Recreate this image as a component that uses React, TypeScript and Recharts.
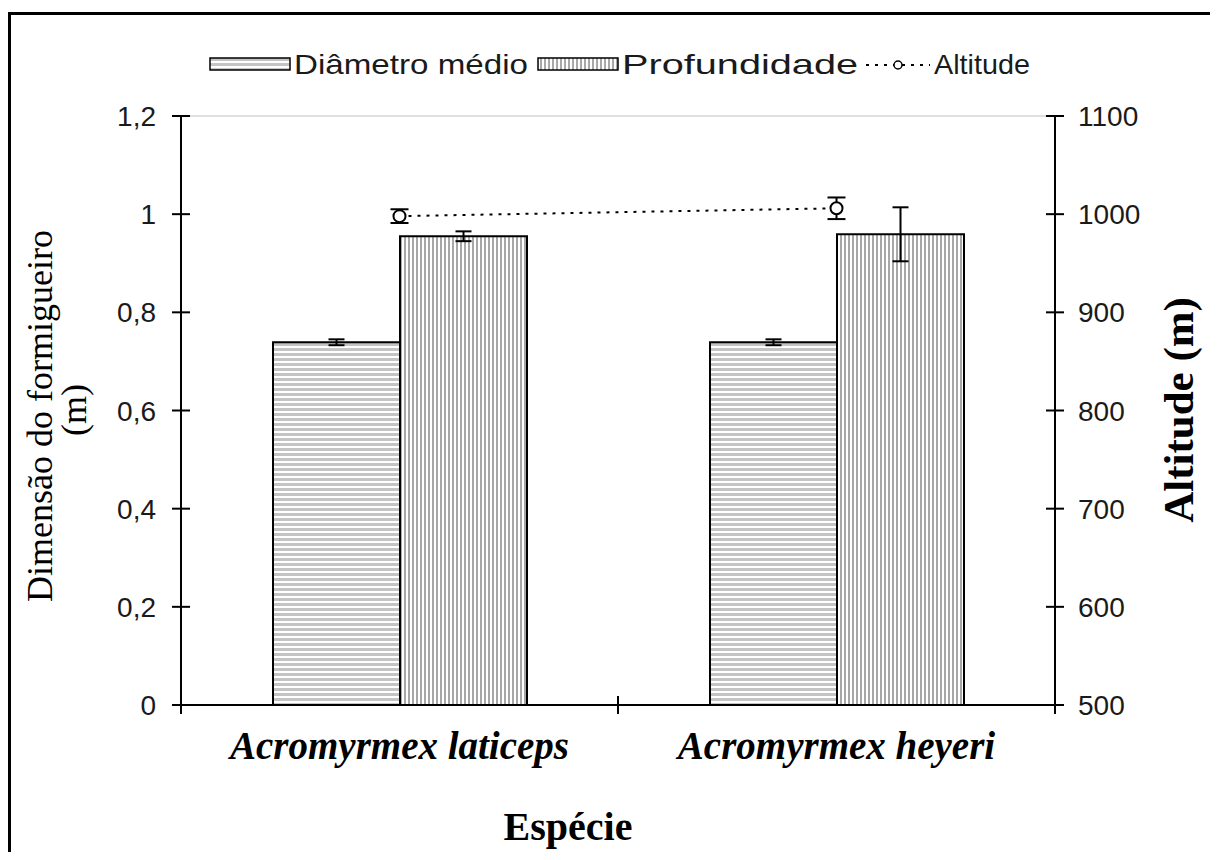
import { ComposedChart, Bar, Line, XAxis, YAxis, ErrorBar, ReferenceLine } from 'recharts';

// dados
const especies = ['Acromyrmex laticeps', 'Acromyrmex heyeri'];
const diametro = [0.739, 0.739];
const diametroErro = [0.006, 0.006];
const profundidade = [0.955, 0.959];
const profundidadeErro = [0.01, 0.055];
const altitude = [998, 1006];
const altitudeErro = [7, 11];

const ticksDimensao = [0, 0.2, 0.4, 0.6, 0.8, 1, 1.2];
const ticksAltitude = [500, 600, 700, 800, 900, 1000, 1100];
const legendas = ['Diâmetro médio', 'Profundidade', 'Altitude'];

const dados = especies.map((nome, i) => ({
  nome,
  diametro: diametro[i],
  diametroErro: diametroErro[i],
  profundidade: profundidade[i],
  profundidadeErro: profundidadeErro[i],
  altitude: altitude[i],
  altitudeErro: altitudeErro[i],
}));

const W = 1210;
const H = 844;
const ESQ = 173;
const DIR = 163;
const TOPO = 108;
const BAIXO = 147;
const BANDA = (W - ESQ - DIR) / especies.length;

const SANS = "'Liberation Sans', Arial, sans-serif";
const SERIF = "'Liberation Serif', 'Times New Roman', serif";

const TickEsquerda = ({ x, y, payload }: any) => (
  <g>
    <line x1={x - 9} x2={x + 9} y1={y} y2={y} stroke="#000" strokeWidth={2} />
    <text x={x - 25} y={y + 10} textAnchor="end" fontFamily={SANS} fontSize={28} fill="#1a1a1a">
      {String(payload.value).replace('.', ',')}
    </text>
  </g>
);

const TickDireita = ({ x, y, payload }: any) => (
  <g>
    <line x1={x - 9} x2={x + 9} y1={y} y2={y} stroke="#000" strokeWidth={2} />
    <text x={x + 23} y={y + 10} textAnchor="start" fontFamily={SANS} fontSize={28} fill="#1a1a1a">
      {payload.value}
    </text>
  </g>
);

const TickEspecie = ({ x, y, payload, index }: any) => (
  <g>
    {index === 0 && (
      <line x1={x - BANDA / 2} x2={x - BANDA / 2} y1={y - 9} y2={y + 9} stroke="#000" strokeWidth={2} />
    )}
    <line x1={x + BANDA / 2} x2={x + BANDA / 2} y1={y - 9} y2={y + 9} stroke="#000" strokeWidth={2} />
    <text
      x={x}
      y={y + 54}
      textAnchor="middle"
      fontFamily={SERIF}
      fontWeight="bold"
      fontStyle="italic"
      fontSize={39}
      fill="#000"
    >
      {payload.value}
    </text>
  </g>
);

const tituloEsquerda = () => (
  <g>
    <text transform="rotate(-90 44 408)" x={44} y={408} textAnchor="middle" fontFamily={SERIF} fontSize={36} fill="#000">
      Dimensão do formigueiro
    </text>
    <text transform="rotate(-90 78 402)" x={78} y={402} textAnchor="middle" fontFamily={SERIF} fontSize={36} fill="#000">
      (m)
    </text>
  </g>
);

const tituloDireita = () => (
  <text
    transform="rotate(-90 1185 402)"
    x={1185}
    y={402}
    textAnchor="middle"
    fontFamily={SERIF}
    fontWeight="bold"
    fontSize={43}
    fill="#000"
  >
    Altitude (m)
  </text>
);

const tituloBaixo = () => (
  <text x={560} y={832} textAnchor="middle" fontFamily={SERIF} fontWeight="bold" fontSize={40} fill="#000">
    Espécie
  </text>
);

function Padroes() {
  return (
    <>
      <pattern id="listraH" patternUnits="userSpaceOnUse" width={6} height={5}>
        <rect width={6} height={5} fill="#fff" />
        <rect width={6} height={3} fill="#c4c4c4" />
      </pattern>
      <pattern id="listraV" patternUnits="userSpaceOnUse" width={4} height={6}>
        <rect width={4} height={6} fill="#fff" />
        <rect width={2} height={6} fill="#a8a8a8" />
      </pattern>
    </>
  );
}

// legenda desenhada à parte, por cima do gráfico
function Legenda() {
  const txt = { fontFamily: SANS, fontSize: 28, fill: '#1a1a1a' };
  return (
    <svg width={W} height={90} style={{ position: 'absolute', left: 0, top: 0 }}>
      <rect x={202} y={50} width={80} height={12} fill="url(#listraH)" stroke="#000" strokeWidth={1.5} />
      <text x={286} y={66} textLength={234} lengthAdjust="spacingAndGlyphs" {...txt}>
        {legendas[0]}
      </text>
      <rect x={530} y={50} width={80} height={12} fill="url(#listraV)" stroke="#000" strokeWidth={1.5} />
      <text x={614} y={66} textLength={236} lengthAdjust="spacingAndGlyphs" {...txt}>
        {legendas[1]}
      </text>
      <line x1={858} x2={922} y1={57} y2={57} stroke="#000" strokeWidth={2} strokeDasharray="3 6" />
      <circle cx={890} cy={57} r={4} fill="#fff" stroke="#000" strokeWidth={1.5} />
      <text x={926} y={66} textLength={96} lengthAdjust="spacingAndGlyphs" {...txt}>
        {legendas[2]}
      </text>
    </svg>
  );
}

export default function App() {
  return (
    <div style={{ position: 'relative', width: W, height: H, overflow: 'hidden', background: '#fff' }}>
      <div
        style={{
          position: 'absolute',
          left: 0,
          top: 4,
          width: 1208,
          height: 900,
          boxSizing: 'border-box',
          borderLeft: '3px solid #000',
          borderTop: '3px solid #000',
          borderRight: '3px solid #000',
        }}
      />
      <div style={{ position: 'absolute', left: 0, top: 0 }}>
        <ComposedChart
          width={W}
          height={H}
          data={dados}
          margin={{ top: TOPO, right: 0, bottom: 0, left: 0 }}
          barGap={0}
        >
          <defs>
            <Padroes />
          </defs>
          <XAxis
            dataKey="nome"
            height={BAIXO}
            axisLine={{ stroke: '#000', strokeWidth: 2 }}
            tickLine={false}
            tickSize={0}
            tickMargin={0}
            interval={0}
            tick={<TickEspecie />}
            label={tituloBaixo}
          />
          <YAxis
            yAxisId="dim"
            orientation="left"
            width={ESQ}
            domain={[0, 1.2]}
            ticks={ticksDimensao}
            axisLine={{ stroke: '#000', strokeWidth: 2 }}
            tickLine={false}
            tickSize={0}
            tickMargin={0}
            tick={<TickEsquerda />}
            label={tituloEsquerda}
          />
          <YAxis
            yAxisId="alt"
            orientation="right"
            width={DIR}
            domain={[500, 1100]}
            ticks={ticksAltitude}
            axisLine={{ stroke: '#000', strokeWidth: 2 }}
            tickLine={false}
            tickSize={0}
            tickMargin={0}
            tick={<TickDireita />}
            label={tituloDireita}
          />
          <ReferenceLine yAxisId="dim" y={1.2} stroke="#c0c0c0" strokeWidth={1} />
          <Bar
            yAxisId="dim"
            dataKey="diametro"
            name={legendas[0]}
            fill="url(#listraH)"
            stroke="#000"
            strokeWidth={2}
            barSize={127}
            isAnimationActive={false}
          >
            <ErrorBar dataKey="diametroErro" width={8} stroke="#000" strokeWidth={2} direction="y" />
          </Bar>
          <Bar
            yAxisId="dim"
            dataKey="profundidade"
            name={legendas[1]}
            fill="url(#listraV)"
            stroke="#000"
            strokeWidth={2}
            barSize={127}
            isAnimationActive={false}
          >
            <ErrorBar dataKey="profundidadeErro" width={8} stroke="#000" strokeWidth={2} direction="y" />
          </Bar>
          <Line
            yAxisId="alt"
            dataKey="altitude"
            name={legendas[2]}
            stroke="#000"
            strokeWidth={2}
            strokeDasharray="3 6"
            dot={{ r: 6, fill: '#fff', stroke: '#000', strokeWidth: 2, strokeDasharray: 'none' }}
            isAnimationActive={false}
          >
            <ErrorBar dataKey="altitudeErro" width={9} stroke="#000" strokeWidth={2} direction="y" />
          </Line>
        </ComposedChart>
      </div>
      <Legenda />
    </div>
  );
}
